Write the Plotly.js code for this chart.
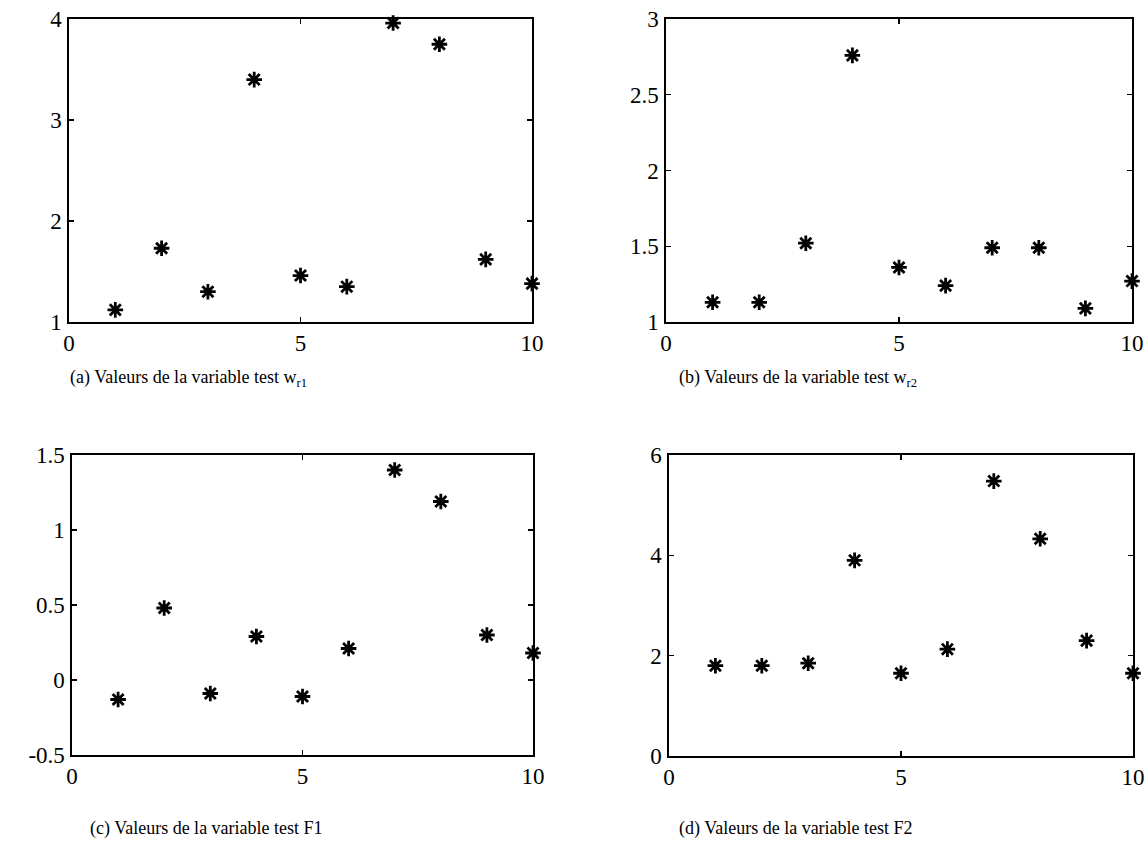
<!DOCTYPE html>
<html>
<head>
<meta charset="utf-8">
<script src="https://cdn.plot.ly/plotly-3.0.1.min.js"></script>
<style>html,body{margin:0;padding:0;background:#fff;}#chart{width:1148px;height:841px;}</style>
</head>
<body>
<div id="chart"></div>
<script>
// Data
const xIndex = [1, 2, 3, 4, 5, 6, 7, 8, 9, 10];
const wr1 = [1.12, 1.73, 1.30, 3.40, 1.46, 1.35, 3.96, 3.75, 1.62, 1.38];
const wr2 = [1.13, 1.13, 1.52, 2.76, 1.36, 1.24, 1.49, 1.49, 1.09, 1.27];
const f1  = [-0.13, 0.48, -0.09, 0.29, -0.11, 0.21, 1.40, 1.19, 0.30, 0.18];
const f2  = [1.80, 1.80, 1.85, 3.90, 1.65, 2.13, 5.48, 4.33, 2.30, 1.65];

const xTickVals = [0, 5, 10];
const xTickText = ['0', '5', '10'];
const aTickVals = [1, 2, 3, 4];
const aTickText = ['1', '2', '3', '4'];
const bTickVals = [1, 1.5, 2, 2.5, 3];
const bTickText = ['1', '1.5', '2', '2.5', '3'];
const cTickVals = [-0.5, 0, 0.5, 1, 1.5];
const cTickText = ['-0.5', '0', '0.5', '1', '1.5'];
const dTickVals = [0, 2, 4, 6];
const dTickText = ['0', '2', '4', '6'];

const captions = [
  '(a) Valeurs de la variable test w<sub>r1</sub>',
  '(b) Valeurs de la variable test w<sub>r2</sub>',
  '(c) Valeurs de la variable test F1',
  '(d) Valeurs de la variable test F2'
];

const W = 1148, H = 841;
const FONT = 'Liberation Serif, Times New Roman, serif';

function marker() {
  return {symbol: 'asterisk-open', size: 13, color: '#000', line: {color: '#000', width: 2.8}};
}
function trace(y, xa, ya) {
  return {x: xIndex, y: y, xaxis: xa, yaxis: ya, type: 'scatter', mode: 'markers',
          marker: marker(), cliponaxis: false, hoverinfo: 'x+y'};
}
const data = [
  trace(wr1, 'x', 'y'),
  trace(wr2, 'x2', 'y2'),
  trace(f1, 'x3', 'y3'),
  trace(f2, 'x4', 'y4')
];

function px2x(a, b) { return [a / W, b / W]; }
function px2y(top, bottom) { return [1 - bottom / H, 1 - top / H]; }

function xax(dom, anchor) {
  return {domain: dom, anchor: anchor, range: [0, 10], tickvals: xTickVals, ticktext: xTickText,
          showline: true, linecolor: '#000', linewidth: 1.6, mirror: 'ticks', ticks: 'inside',
          ticklen: 5, tickwidth: 1.2, tickcolor: '#000', showgrid: false, zeroline: false,
          ticklabelstandoff: 0, tickfont: {family: FONT, size: 23, color: '#000'}};
}
function yax(dom, anchor, range, tv, tt) {
  return {domain: dom, anchor: anchor, range: range, tickvals: tv, ticktext: tt,
          showline: true, linecolor: '#000', linewidth: 1.6, mirror: 'ticks', ticks: 'inside',
          ticklen: 5, tickwidth: 1.2, tickcolor: '#000', showgrid: false, zeroline: false,
          ticklabelstandoff: 1, tickfont: {family: FONT, size: 23, color: '#000'}};
}

const layout = {
  width: W, height: H,
  margin: {l: 0, r: 0, t: 0, b: 0},
  paper_bgcolor: '#fff', plot_bgcolor: '#fff',
  showlegend: false,
  font: {family: FONT, color: '#000'},
  xaxis:  xax(px2x(69, 532), 'y'),
  yaxis:  yax(px2y(19, 322), 'x', [1, 4], aTickVals, aTickText),
  xaxis2: xax(px2x(666, 1132), 'y2'),
  yaxis2: yax(px2y(19, 322), 'x2', [1, 3], bTickVals, bTickText),
  xaxis3: xax(px2x(72, 533), 'y3'),
  yaxis3: yax(px2y(455, 755), 'x3', [-0.5, 1.5], cTickVals, cTickText),
  xaxis4: xax(px2x(669, 1133), 'y4'),
  yaxis4: yax(px2y(455, 756), 'x4', [0, 6], dTickVals, dTickText),
  annotations: [
    {text: captions[0], x: 68 / W, y: 1 - 378 / H},
    {text: captions[1], x: 677 / W, y: 1 - 378 / H},
    {text: captions[2], x: 88 / W, y: 1 - 828 / H},
    {text: captions[3], x: 677 / W, y: 1 - 828 / H}
  ].map(a => Object.assign({xref: 'paper', yref: 'paper', xanchor: 'left', yanchor: 'middle',
          showarrow: false, font: {family: FONT, size: 18, color: '#000'}}, a))
};

Plotly.newPlot('chart', data, layout, {displayModeBar: false, staticPlot: true});
</script>
</body>
</html>
